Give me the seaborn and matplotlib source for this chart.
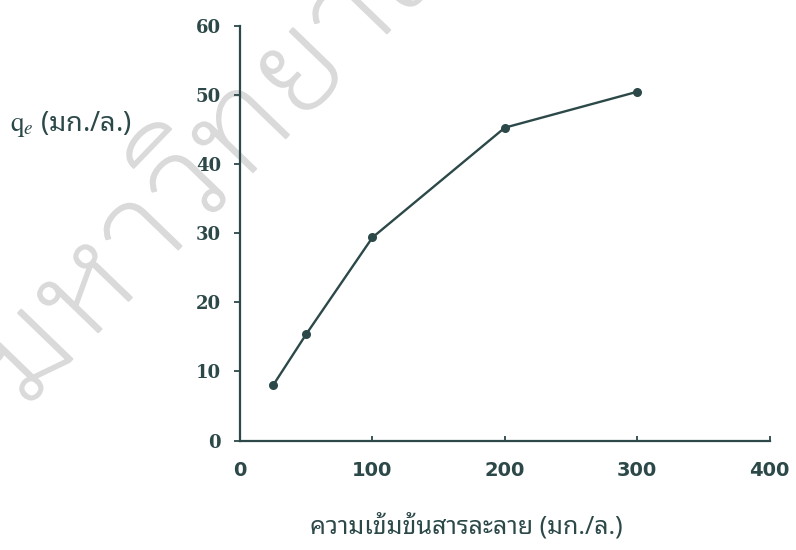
import matplotlib
matplotlib.use("Agg")
import matplotlib.pyplot as plt
import matplotlib.patheffects as pe
import seaborn as sns
import pandas as pd

# Adsorption capacity versus solution concentration
concentration = [25, 50, 100, 200, 300]
qe = [8.0, 15.4, 29.4, 45.3, 50.5]
x_ticks = [0, 100, 200, 300, 400]
y_ticks = [0, 10, 20, 30, 40, 50, 60]

x_label = "ความเข้มข้นสารละลาย (มก./ล.)"
y_label = r"$\mathrm{q}_{e}$ (มก./ล.)"
watermark = "มหาวิทยาลัยศิลปากร"

ink = "#2c4848"
mark_grey = "#dadada"
thai_font = ["Noto Sans Thai Looped", "DejaVu Sans"]

sns.set_theme(style="white")
plt.rcParams["mathtext.fontset"] = "stix"

df = pd.DataFrame({"conc": concentration, "qe": qe})

fig = plt.figure(figsize=(7.96, 5.5), dpi=100)
ax = fig.add_axes([0.3015, 0.199, 0.6655, 0.7535])
ax.set_facecolor("none")

# light diagonal watermark behind the plot
fig.text(0.03, 0.256, watermark, rotation=46, rotation_mode="anchor",
         ha="left", va="baseline", fontsize=95, color=mark_grey,
         family=["IBM Plex Sans Thai Looped"], fontweight="light", zorder=-5,
         path_effects=[pe.withStroke(linewidth=1.5, foreground=mark_grey,
                                     capstyle="round", joinstyle="round")])

sns.lineplot(data=df, x="conc", y="qe", ax=ax, color=ink, linewidth=1.7,
             marker="o", markersize=6.5, markeredgewidth=0, markerfacecolor=ink)

ax.set_xlim(0, 400)
ax.set_ylim(0, 60)
ax.set_xticks(x_ticks)
ax.set_yticks(y_ticks)
ax.set_xticklabels([str(v) for v in x_ticks], family="DejaVu Sans",
                   fontweight="bold", fontsize=14, color=ink)
ax.set_yticklabels([str(v) for v in y_ticks], family="DejaVu Serif",
                   fontweight="bold", fontsize=13, color=ink)

for side in ("top", "right"):
    ax.spines[side].set_visible(False)
for side in ("left", "bottom"):
    ax.spines[side].set_color(ink)
    ax.spines[side].set_linewidth(1.6)

ax.tick_params(axis="y", direction="out", length=4.5, width=1.3, color=ink,
               left=True, pad=9)
ax.tick_params(axis="x", direction="in", length=3.5, width=1.3, color=ink,
               bottom=True, pad=15)

ax.set_xlabel(x_label, family=thai_font, fontsize=18, color=ink, va="center")
ax.xaxis.set_label_coords(0.428, -0.207)
ax.set_ylabel(y_label, family=thai_font, fontsize=19.5, color=ink, rotation=0,
              ha="left", va="center")
ax.yaxis.set_label_coords(-0.435, 0.763)

fig.savefig("out.png", dpi=100)
